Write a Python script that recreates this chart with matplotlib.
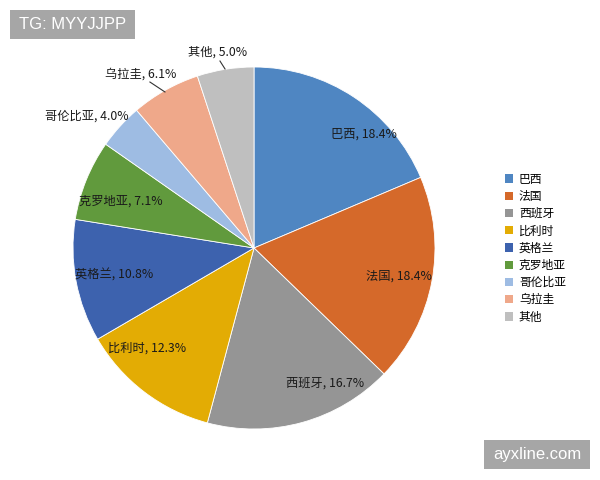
import matplotlib
matplotlib.use("Agg")
import matplotlib.pyplot as plt
from matplotlib.patches import Rectangle, Patch

plt.rcParams['font.family'] = ['Noto Sans CJK SC', 'DejaVu Sans']

categories = ['巴西', '法国', '西班牙', '比利时', '英格兰', '克罗地亚', '哥伦比亚', '乌拉圭', '其他']
values = [18.4, 18.4, 16.7, 12.3, 10.8, 7.1, 4.0, 6.1, 5.0]
colors = ['#4F86C2', '#D5692A', '#959595', '#E3AC04', '#3D62AE',
          '#619A3D', '#9EBCE3', '#EFA88A', '#BFBFBF']

# label positions (data coords, pie radius = 1)
label_pos = [(0.608, 0.630), (0.801, -0.155), (0.392, -0.746), (-0.591, -0.552),
             (-0.773, -0.149), (-0.735, 0.260), (-0.923, 0.729), (-0.624, 0.961),
             (-0.199, 1.083)]
leaders = {7: [(-0.575, 0.917), (-0.492, 0.862)],
           8: [(-0.188, 1.033), (-0.160, 0.989)]}

W, H = 600, 480
fig = plt.figure(figsize=(6, 4.8), dpi=100)
cx, cy, r = 254, 248, 181
ax = fig.add_axes([(cx - r) / W, (H - cy - r) / H, 2 * r / W, 2 * r / H])
wedges, _ = ax.pie(values, colors=colors, startangle=90, counterclock=False,
                   wedgeprops=dict(edgecolor='white', linewidth=0.6))
ax.set_xlim(-1, 1)
ax.set_ylim(-1, 1)
ax.set_aspect('equal')
ax.axis('off')

for i, (c, v) in enumerate(zip(categories, values)):
    x, y = label_pos[i]
    ax.text(x, y, f'{c}, {v:.1f}%', ha='center', va='center', fontsize=8.8,
            color='#1a1a1a', clip_on=False)
for i, pts in leaders.items():
    ax.plot([pts[0][0], pts[1][0]], [pts[0][1], pts[1][1]], color='#333333',
            lw=0.8, clip_on=False)

handles = [Patch(facecolor=col, edgecolor='none') for col in colors]
leg = fig.legend(handles, categories, loc='upper left',
                 bbox_to_anchor=(500 / W, 1 - 168 / H), frameon=False,
                 fontsize=8.5, handlelength=0.7, handleheight=0.7,
                 handletextpad=0.5, labelspacing=0.36, borderaxespad=0)

# watermark boxes
def box(x0, y0, x1, y1, text, size):
    fig.patches.append(Rectangle((x0 / W, 1 - y1 / H), (x1 - x0) / W, (y1 - y0) / H,
                                 transform=fig.transFigure, facecolor='#A6A6A6',
                                 edgecolor='none'))
    fig.text((x0 + x1) / 2 / W, 1 - (y0 + y1) / 2 / H, text, ha='center',
             va='center', color='white', fontsize=size, family='Liberation Sans')

box(10, 10, 135, 39, 'TG: MYYJJPP', 12)
box(484, 440, 590, 469, 'ayxline.com', 12)

fig.savefig('out.png', dpi=100)
